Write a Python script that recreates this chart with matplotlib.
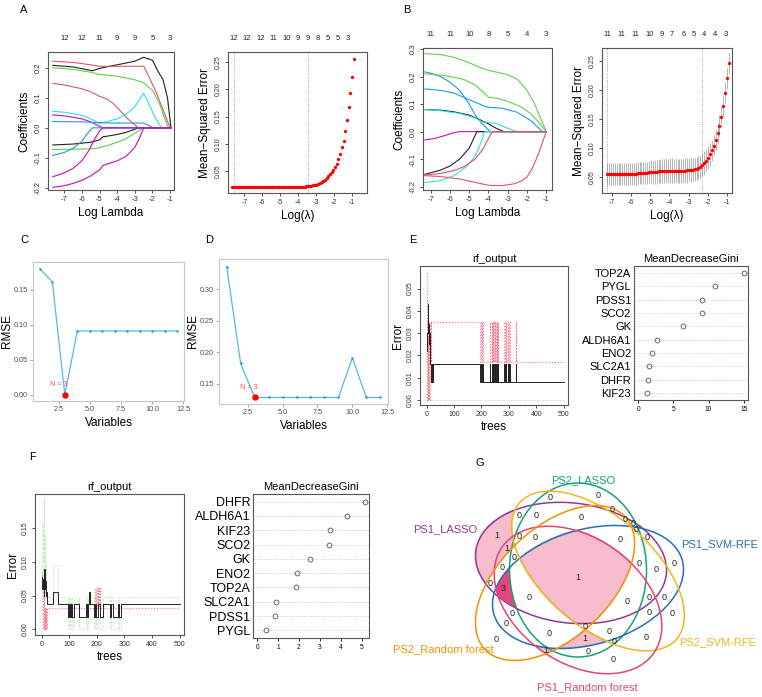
import numpy as np
import matplotlib
matplotlib.use('Agg')
import matplotlib.pyplot as plt
from matplotlib.patches import Ellipse
from matplotlib.transforms import blended_transform_factory
from matplotlib.colors import to_rgba

plt.rcParams['font.family'] = ['Liberation Sans', 'DejaVu Sans']
plt.rcParams['axes.unicode_minus'] = False

# ---------------- data ----------------
# A: LASSO (PS1) coefficient paths, knots (log lambda, coef)
a_paths = [
    ([-7.65, -6.5, -5.4, -5.0, -4.0, -3.0, -2.5, -2.0, -1.7, -1.4, -1.15, -0.95],
     [0.208, 0.203, 0.19, 0.198, 0.21, 0.222, 0.235, 0.225, 0.19, 0.16, 0.1, 0.0]),
    ([-7.65, -6.5, -5.5, -5.0, -4.0, -3.0, -2.5, -2.2, -1.8, -1.4, -1.0],
     [0.222, 0.218, 0.21, 0.205, 0.205, 0.205, 0.205, 0.17, 0.12, 0.06, 0.0]),
    ([-7.65, -6.5, -5.5, -5.0, -4.0, -3.0, -2.5, -2.0, -1.6, -1.3, -1.1],
     [0.2, 0.195, 0.185, 0.178, 0.172, 0.16, 0.15, 0.125, 0.08, 0.03, 0.0]),
    ([-7.65, -7.0, -6.0, -5.5, -5.0, -4.6, -4.2, -3.8, -3.4, -3.0, -2.8],
     [0.148, 0.143, 0.13, 0.12, 0.105, 0.097, 0.08, 0.055, 0.03, 0.01, 0.0]),
    ([-7.65, -7.0, -6.0, -5.5, -5.0, -4.5, -4.0, -3.5, -3.0, -2.5, -2.2, -1.9, -1.6, -1.5],
     [0.055, 0.052, 0.042, 0.03, 0.015, 0.022, 0.03, 0.045, 0.07, 0.115, 0.08, 0.04, 0.01, 0.0]),
    ([-7.65, -7.0, -6.0, -5.5, -5.0, -4.8],
     [0.043, 0.04, 0.03, 0.02, 0.005, 0.0]),
    ([-7.65, -6.0, -5.0, -4.0, -3.0, -2.5, -2.2, -2.0],
     [0.021, 0.02, 0.017, 0.016, 0.016, 0.016, 0.008, 0.0]),
    ([-7.65, -6.5, -5.5, -5.0, -4.8, -4.0, -3.5, -3.0, -2.8],
     [-0.057, -0.054, -0.048, -0.04, -0.03, -0.022, -0.015, -0.005, 0.0]),
    ([-7.65, -6.5, -5.5, -5.0, -4.5, -4.0, -3.5, -3.0, -2.5],
     [-0.072, -0.071, -0.07, -0.066, -0.058, -0.048, -0.036, -0.018, 0.0]),
    ([-7.65, -7.0, -6.5, -6.0, -5.7, -5.4],
     [-0.092, -0.082, -0.068, -0.045, -0.02, 0.0]),
    ([-7.65, -7.0, -6.5, -6.0, -5.6, -5.3, -5.0, -4.8],
     [-0.163, -0.15, -0.135, -0.11, -0.075, -0.04, -0.01, 0.0]),
    ([-7.65, -7.0, -6.5, -6.0, -5.5, -5.0, -4.8, -4.0, -3.5, -3.0, -2.7, -2.5],
     [-0.198, -0.193, -0.185, -0.175, -0.16, -0.14, -0.125, -0.11, -0.095, -0.065, -0.03, 0.0]),
]
a_path_colors = ['#222222', '#DF536B', '#61D04F', '#DF536B', '#28E2E5', '#CD0BBC',
                 '#2297E6', '#222222', '#61D04F', '#2297E6', '#CD0BBC', '#CD0BBC']
a_end = -0.95
a_df_ticks = [-7, -6, -5, -4, -3, -2, -1]
a_df_labels = ['12', '12', '11', '9', '9', '5', '3']

# A: cross-validation curve
a_cv_range = (-7.7, -0.9, 73)
a_mse = [0.0215] * 39 + [0.0216, 0.0217, 0.0218, 0.022, 0.0222, 0.0225, 0.0228, 0.0232,
                         0.0237, 0.0243, 0.025, 0.026, 0.027, 0.029, 0.031, 0.033, 0.035,
                         0.038, 0.041, 0.045, 0.049, 0.053, 0.058, 0.064, 0.073, 0.082,
                         0.094, 0.106, 0.123, 0.143, 0.167, 0.194, 0.223, 0.256]
a_mse_sd = [0.0008] * 50 + [0.001] * 10 + [0.002] * 8 + [0.003] * 5
a_cv_top_pos = [-7.59, -6.85, -6.1, -5.4, -4.62, -4.02, -3.47, -2.91, -2.36, -1.8, -1.24]
a_cv_top_labels = ['12', '12', '12', '11', '10', '9', '9', '8', '5', '5', '3']
a_lambda_lines = [-7.6, -3.45]

# B: LASSO (PS2) coefficient paths
b_paths = [
    ([-7.3, -6.5, -5.8, -5.0, -4.5, -4.0, -3.5, -3.0, -2.5, -2.0, -1.6, -1.3, -1.0],
     [0.283, 0.28, 0.27, 0.25, 0.235, 0.222, 0.215, 0.207, 0.19, 0.15, 0.1, 0.05, 0.0]),
    ([-7.3, -7.0, -6.5, -6.0, -5.5, -5.0, -4.6, -4.2, -3.9],
     [0.217, 0.212, 0.2, 0.18, 0.15, 0.1, 0.05, 0.02, 0.0]),
    ([-7.3, -6.5, -6.0, -5.3, -4.7, -4.3, -4.0, -3.5, -3.0, -2.3, -1.8, -1.4, -1.0],
     [0.21, 0.205, 0.2, 0.19, 0.17, 0.145, 0.125, 0.12, 0.11, 0.09, 0.065, 0.035, 0.0]),
    ([-7.3, -6.5, -5.8, -5.3, -4.8, -4.3, -4.0, -3.3, -2.5, -1.8, -1.2],
     [0.155, 0.15, 0.14, 0.125, 0.11, 0.095, 0.088, 0.085, 0.07, 0.04, 0.0]),
    ([-7.3, -6.5, -5.8, -5.0, -4.5, -4.0, -3.6, -3.2],
     [0.08, 0.078, 0.072, 0.06, 0.045, 0.028, 0.012, 0.0]),
    ([-7.3, -6.5, -5.5, -4.7, -4.3, -3.6, -3.0, -2.5],
     [0.08, 0.076, 0.066, 0.05, 0.035, 0.03, 0.012, 0.0]),
    ([-7.3, -6.8, -6.3, -5.8, -5.5],
     [-0.03, -0.025, -0.015, -0.004, 0.0]),
    ([-7.3, -6.5, -6.0, -5.5, -5.0, -4.8, -4.6],
     [-0.155, -0.14, -0.125, -0.1, -0.06, -0.03, 0.0]),
    ([-7.3, -6.5, -5.8, -5.2, -4.8, -4.5, -4.3, -4.2],
     [-0.185, -0.178, -0.16, -0.13, -0.1, -0.06, -0.02, 0.0]),
    ([-7.3, -6.5, -5.8, -5.2, -4.7, -4.3, -4.0, -3.8],
     [-0.158, -0.152, -0.142, -0.125, -0.1, -0.065, -0.025, 0.0]),
    ([-7.3, -6.5, -5.5, -4.5, -4.0, -3.3, -2.7, -2.3, -2.0, -1.7, -1.4, -1.2, -1.0],
     [-0.16, -0.163, -0.172, -0.187, -0.195, -0.196, -0.19, -0.18, -0.165, -0.13, -0.08, -0.04, 0.0]),
]
b_path_colors = ['#61D04F', '#2297E6', '#61D04F', '#2297E6', '#222222', '#28E2E5',
                 '#CD0BBC', '#222222', '#28E2E5', '#DF536B', '#DF536B']
b_end = -1.0
b_df_ticks = [-7, -6, -5, -4, -3, -2, -1]
b_df_labels = ['11', '11', '10', '8', '5', '4', '3']

b_cv_range = (-7.25, -0.9, 65)
b_mse = ([0.0555] * 13 +
         [0.0556, 0.0558, 0.056, 0.0562, 0.0565, 0.0568, 0.057, 0.0573, 0.0576, 0.058] +
         [0.0583, 0.0586, 0.0589, 0.0592, 0.0595, 0.0598, 0.060, 0.0603, 0.0606, 0.0609] +
         [0.061, 0.061, 0.0608, 0.0606, 0.0605, 0.0605, 0.0606, 0.0608, 0.061, 0.0613,
          0.0617, 0.0622] +
         [0.0628, 0.0635, 0.0645, 0.0658, 0.068, 0.071, 0.074, 0.078, 0.083, 0.089,
          0.096, 0.104, 0.113, 0.125, 0.138, 0.154, 0.173, 0.195, 0.220, 0.246])
b_mse_sd = [0.0185] * 13 + [0.019] * 10 + [0.0205] * 10 + [0.021] * 12 + [0.02] * 10 + [0.018] * 10
b_cv_top_pos = [-7.26, -6.53, -5.79, -5.01, -4.40, -3.88, -3.28, -2.72, -2.19, -1.64, -1.08]
b_cv_top_labels = ['11', '11', '11', '10', '9', '7', '6', '5', '4', '4', '3']
b_lambda_lines = [-7.25, -2.28]

# C / D: SVM-RFE
n_vars = [1, 2, 3, 4, 5, 6, 7, 8, 9, 10, 11, 12]
c_rmse = [0.180, 0.161, 0.000, 0.091, 0.091, 0.091, 0.091, 0.091, 0.091, 0.091, 0.091, 0.091]
d_rmse = [0.336, 0.182, 0.128, 0.128, 0.128, 0.128, 0.128, 0.128, 0.128, 0.191, 0.128, 0.128]
best_n = 3

# E: random forest PS1 (step change points: tree, error)
e_oob = [(1, 0.022), (3, 0.03), (4, 0.043), (6, 0.034), (8, 0.025), (10, 0.03), (12, 0.024),
         (14, 0.016), (16, 0.008), (18, 0.016), (20, 0.008), (24, 0.016), (196, 0.008),
         (198, 0.016), (201, 0.008), (204, 0.016), (206, 0.008), (230, 0.016), (232, 0.008),
         (238, 0.016), (240, 0.008), (242, 0.016), (244, 0.008), (246, 0.016), (248, 0.008),
         (250, 0.016), (252, 0.008), (256, 0.016), (258, 0.008), (260, 0.016), (262, 0.008),
         (284, 0.016), (286, 0.008), (289, 0.016), (291, 0.008), (296, 0.016), (298, 0.008),
         (301, 0.016), (303, 0.008), (325, 0.016), (327, 0.008), (500, 0.008)]
e_cls1 = [(1, 0.057), (2, 0.02), (3, 0.0), (5, 0.035), (6, 0.0), (8, 0.035), (9, 0.0),
          (11, 0.017), (13, 0.035), (15, 0.017), (17, 0.035), (196, 0.017), (198, 0.035),
          (201, 0.017), (204, 0.035), (206, 0.017), (230, 0.035), (232, 0.017), (238, 0.035),
          (240, 0.017), (242, 0.035), (244, 0.017), (246, 0.035), (248, 0.017), (250, 0.035),
          (252, 0.017), (256, 0.035), (258, 0.017), (260, 0.035), (262, 0.017), (284, 0.035),
          (286, 0.017), (289, 0.035), (291, 0.017), (296, 0.035), (298, 0.017), (301, 0.035),
          (303, 0.017), (325, 0.035), (327, 0.017), (500, 0.017)]
e_cls2 = [(1, 0.0), (3, 0.045), (5, 0.02), (7, 0.0), (500, 0.0)]
e_genes = ['TOP2A', 'PYGL', 'PDSS1', 'SCO2', 'GK', 'ALDH6A1', 'ENO2', 'SLC2A1', 'DHFR', 'KIF23']
e_gini = [15.0, 10.9, 9.0, 9.0, 6.4, 2.6, 2.0, 1.5, 1.4, 1.3]

# F: random forest PS2
f_oob = [(1, 0.078), (3, 0.06), (5, 0.075), (7, 0.05), (9, 0.09), (11, 0.06), (13, 0.072),
         (15, 0.05), (17, 0.055), (20, 0.037), (40, 0.056), (60, 0.037), (97, 0.018),
         (100, 0.037), (103, 0.018), (108, 0.037), (110, 0.018), (118, 0.037), (137, 0.018),
         (160, 0.037), (163, 0.018), (167, 0.037), (172, 0.056), (176, 0.037), (190, 0.018),
         (195, 0.037), (198, 0.018), (206, 0.037), (212, 0.018), (222, 0.037), (247, 0.018),
         (253, 0.037), (257, 0.018), (276, 0.037), (280, 0.018), (288, 0.037), (500, 0.037)]
f_cls1 = [(1, 0.085), (3, 0.06), (5, 0.0), (7, 0.062), (9, 0.0), (11, 0.031), (13, 0.0),
          (15, 0.031), (17, 0.0), (19, 0.031), (193, 0.062), (196, 0.031), (199, 0.062),
          (203, 0.031), (205, 0.062), (209, 0.031), (211, 0.062), (213, 0.031), (500, 0.031)]
f_cls2 = [(1, 0.0), (3, 0.16), (5, 0.05), (7, 0.195), (9, 0.1), (11, 0.14), (13, 0.048),
          (15, 0.1), (17, 0.048), (40, 0.096), (58, 0.048), (97, 0.0), (100, 0.048),
          (103, 0.0), (108, 0.048), (110, 0.0), (118, 0.048), (137, 0.0), (160, 0.048),
          (163, 0.0), (167, 0.048), (190, 0.0), (195, 0.048), (198, 0.0), (206, 0.048),
          (212, 0.0), (222, 0.048), (247, 0.0), (253, 0.048), (257, 0.0), (276, 0.048),
          (280, 0.0), (288, 0.048), (500, 0.048)]
f_genes = ['DHFR', 'ALDH6A1', 'KIF23', 'SCO2', 'GK', 'ENO2', 'TOP2A', 'SLC2A1', 'PDSS1', 'PYGL']
f_gini = [5.15, 4.3, 3.5, 3.45, 2.55, 1.9, 1.85, 0.9, 0.85, 0.4]

# G: six-set venn
venn_sets = ['PS1_LASSO', 'PS2_LASSO', 'PS1_SVM-RFE', 'PS2_SVM-RFE',
             'PS1_Random forest', 'PS2_Random forest']
venn_nonzero = [
    (('PS1_LASSO', 'PS2_LASSO', 'PS1_SVM-RFE', 'PS2_SVM-RFE',
      'PS1_Random forest', 'PS2_Random forest'), 1),
    (('PS1_LASSO',), 1),
    (('PS1_LASSO', 'PS1_SVM-RFE', 'PS1_Random forest', 'PS2_Random forest'), 3),
    (('PS1_LASSO', 'PS1_Random forest'), 1),
    (('PS1_Random forest', 'PS2_Random forest'), 1),
    (('PS2_LASSO', 'PS1_SVM-RFE', 'PS1_Random forest'), 1),
]

# ---------------- layout / style ----------------
W, H = 762, 697
fig = plt.figure(figsize=(W / 100, H / 100), dpi=100)


def add_box(x0, y0, x1, y1):
    return fig.add_axes([x0 / W, 1 - y1 / H, (x1 - x0) / W, (y1 - y0) / H])


def r_style(ax, fs=5.5):
    for s in ax.spines.values():
        s.set_color('#555555')
        s.set_linewidth(0.8)
    ax.tick_params(direction='out', length=2.5, width=0.6, colors='#333333',
                   labelsize=fs, pad=2)
    ax.tick_params(axis='y', labelrotation=90)
    plt.setp(ax.get_yticklabels(), va='center')


def gg_style(ax):
    for s in ax.spines.values():
        s.set_color('#C8C8C8')
        s.set_linewidth(0.8)
    ax.tick_params(direction='out', length=2, width=0.6, color='#999999',
                   labelcolor='#4D4D4D', labelsize=5.2, pad=1.5)


def top_labels(ax, pos, labels, dy=14):
    tr = blended_transform_factory(ax.transData, ax.transAxes)
    h = ax.get_position().height * H
    for p, lab in zip(pos, labels):
        ax.text(p, 1 + dy / h, lab, transform=tr, ha='center', va='center',
                fontsize=5.5, color='#222222')


def letter(x, y, s):
    fig.text(x / W, 1 - y / H, s, fontsize=8, ha='left', va='center')


def draw_paths(ax, paths, colors, end):
    for (xs, ys), c in zip(paths, colors):
        xs = list(xs) + ([end] if xs[-1] < end else [])
        ys = list(ys) + ([0.0] if len(ys) < len(xs) else [])
        ax.plot(xs, ys, color=c, lw=0.8)


def draw_cv(ax, rng, mse, sd, vlines):
    x = np.linspace(*rng)
    ax.errorbar(x, mse, yerr=sd, fmt='o', color='red', ms=2.4, mew=0,
                ecolor='#AAAAAA', elinewidth=0.6, capsize=1.0, capthick=0.5)
    for v in vlines:
        ax.axvline(v, color='#888888', ls=':', lw=0.6)


def draw_rf(ax, oob, cls1, cls2, ylim, yticks):
    for pts, kw in ((cls2, dict(color='#61D04F', ls='--', lw=0.6, alpha=0.35)),
                    (cls1, dict(color='#FF4D6A', ls=':', lw=0.8, alpha=0.8)),
                    (oob, dict(color='#222222', ls='-', lw=0.7))):
        t, e = zip(*pts)
        ax.step(t, e, where='post', **kw)
    ax.set_xlim(-24, 516)
    ax.set_ylim(*ylim)
    ax.set_xticks([0, 100, 200, 300, 400, 500])
    ax.set_yticks(yticks)
    r_style(ax, fs=5)
    ax.set_title('rf_output', fontsize=8, pad=3)
    ax.set_xlabel('trees', fontsize=8.5, labelpad=2)
    ax.set_ylabel('Error', fontsize=8.5, labelpad=2)


def draw_gini(ax, genes, vals, xlim, xticks, fs):
    ypos = np.arange(len(genes), 0, -1)
    ax.hlines(ypos, xlim[0], xlim[1], colors='#BBBBBB', linestyles=':', lw=0.6)
    ax.plot(vals, ypos, 'o', mfc='none', mec='#555555', ms=3.5, mew=0.6)
    ax.set_xlim(*xlim)
    ax.set_ylim(0.47, len(genes) + 0.53)
    ax.set_xticks(xticks)
    ax.set_yticks(ypos)
    ax.set_yticklabels(genes)
    for s in ax.spines.values():
        s.set_color('#555555')
        s.set_linewidth(0.8)
    ax.tick_params(axis='x', direction='out', length=2.5, width=0.6, labelsize=4.8, pad=2)
    ax.tick_params(axis='y', length=0, labelsize=fs, pad=2)
    ax.set_title('MeanDecreaseGini', fontsize=8, pad=3)


# ---- A ----
ax = add_box(48, 52, 174, 190)
draw_paths(ax, a_paths, a_path_colors, a_end)
ax.set_xlim(-7.92, -0.78)
ax.set_ylim(-0.207, 0.2526)
ax.set_xticks(a_df_ticks)
ax.set_yticks([-0.2, -0.1, 0.0, 0.1, 0.2])
r_style(ax)
top_labels(ax, a_df_ticks, a_df_labels)
ax.set_xlabel('Log Lambda', fontsize=8.5, labelpad=3)
ax.set_ylabel('Coefficients', fontsize=8.5, labelpad=3)

ax = add_box(228, 52, 367, 193)
draw_cv(ax, a_cv_range, a_mse, a_mse_sd, a_lambda_lines)
ax.set_xlim(-7.91, -0.16)
ax.set_ylim(0.0106, 0.268)
ax.set_xticks([-7, -6, -5, -4, -3, -2, -1])
ax.set_yticks([0.05, 0.10, 0.15, 0.20, 0.25])
r_style(ax, fs=5)
top_labels(ax, a_cv_top_pos, a_cv_top_labels)
ax.set_xlabel('Log(\u03bb)', fontsize=8.5, labelpad=3)
ax.set_ylabel('Mean\u2212Squared Error', fontsize=8.5, labelpad=3)

# ---- B ----
ax = add_box(423, 48, 552, 190)
draw_paths(ax, b_paths, b_path_colors, b_end)
ax.set_xlim(-7.4, -0.7)
ax.set_ylim(-0.212, 0.3036)
ax.set_xticks(b_df_ticks)
ax.set_yticks([-0.2, -0.1, 0.0, 0.1, 0.2, 0.3])
r_style(ax)
top_labels(ax, b_df_ticks, b_df_labels)
ax.set_xlabel('Log Lambda', fontsize=8.5, labelpad=3)
ax.set_ylabel('Coefficients', fontsize=8.5, labelpad=3)

ax = add_box(602, 48, 732, 193)
draw_cv(ax, b_cv_range, b_mse, b_mse_sd, b_lambda_lines)
ax.set_xlim(-7.52, -0.74)
ax.set_ylim(0.0225, 0.272)
ax.set_xticks([-7, -6, -5, -4, -3, -2, -1])
ax.set_yticks([0.05, 0.10, 0.15, 0.20, 0.25])
r_style(ax, fs=5)
top_labels(ax, b_cv_top_pos, b_cv_top_labels)
ax.set_xlabel('Log(\u03bb)', fontsize=8.5, labelpad=3)
ax.set_ylabel('Mean\u2212Squared Error', fontsize=8.5, labelpad=3)

# ---- C / D ----
for box, vals, ylim, yticks in (((33, 262, 184, 401), c_rmse, (-0.009, 0.1895),
                                 [0.00, 0.05, 0.10, 0.15]),
                                ((219, 259, 388, 404), d_rmse, (0.1176, 0.348),
                                 [0.15, 0.20, 0.25, 0.30])):
    ax = add_box(*box)
    ax.plot(n_vars, vals, color='#56B9EA', lw=0.9, marker='o', ms=1.8, mfc='#2A9AD8', mec='none')
    bi = n_vars.index(best_n)
    ax.plot([n_vars[bi]], [vals[bi]], 'o', color='red', ms=3.6)
    ax.annotate('N = %d' % best_n, (n_vars[bi], vals[bi]), xytext=(-4, 5),
                textcoords='offset points', ha='center', va='bottom', color='#FF5050',
                fontsize=5.2)
    ax.set_xlim(0.45, 12.55)
    ax.set_ylim(*ylim)
    ax.set_xticks([2.5, 5.0, 7.5, 10.0, 12.5])
    ax.set_xticklabels(['2.5', '5.0', '7.5', '10.0', '12.5'])
    ax.set_yticks(yticks)
    ax.set_yticklabels(['%.2f' % v for v in yticks])
    gg_style(ax)
    ax.set_xlabel('Variables', fontsize=8.5, labelpad=3)
    ax.set_ylabel('RMSE', fontsize=8.5, labelpad=0.5)

# ---- E ----
ax = add_box(420, 266, 568, 405)
draw_rf(ax, e_oob, e_cls1, e_cls2, (-0.0022, 0.0601), [0.00, 0.01, 0.02, 0.03, 0.04, 0.05])
ax = add_box(634, 266, 748, 400)
draw_gini(ax, e_genes, e_gini, (-0.6, 15.6), [0, 5, 10, 15], 8)

# ---- F ----
ax = add_box(35, 494, 184, 635)
draw_rf(ax, f_oob, f_cls1, f_cls2, (-0.0084, 0.201), [0.00, 0.05, 0.10, 0.15])
ax = add_box(253, 494, 369, 638)
draw_gini(ax, f_genes, f_gini, (-0.21, 5.36), [0, 1, 2, 3, 4, 5], 9)

# ---- G: venn ----
venn_shapes = [(571, 563, 192, 120, 7), (578, 570, 137, 174, 0), (588, 587, 196, 115, -16),
               (598, 571, 208, 110, 41), (578, 600, 185, 125, 35), (555, 583, 193, 110, -43.5)]
venn_colors = ['#8E3A96', '#16A27A', '#2A6EB5', '#F6B51A', '#E9427A', '#F39200']
venn_label_pos = [(445, 529), (583, 480), (720, 544), (718, 642), (587, 687), (443, 649)]

ax = add_box(440, 455, 762, 697)
ax.set_xlim(440, 762)
ax.set_ylim(697, 455)
ax.axis('off')

gx = np.arange(440, 720, 0.5)
gy = np.arange(455, 697, 0.5)
GX, GY = np.meshgrid(gx, gy)
code = np.zeros(GX.shape, dtype=int)
for k, (cx, cy, w, h, ang) in enumerate(venn_shapes):
    t = np.deg2rad(ang)
    dx, dy = GX - cx, GY - cy
    u = dx * np.cos(t) + dy * np.sin(t)
    v = -dx * np.sin(t) + dy * np.cos(t)
    code |= (((u / (w / 2)) ** 2 + (v / (h / 2)) ** 2) <= 1).astype(int) << k

count_by_code = {}
for members, n in venn_nonzero:
    count_by_code[sum(1 << venn_sets.index(m) for m in members)] = n

img = np.zeros(GX.shape + (4,))
for c, n in count_by_code.items():
    img[code == c] = to_rgba('#E8457A' if n > 1 else '#F8BECD')
ax.imshow(img, extent=(gx[0], gx[-1], gy[-1], gy[0]), origin='upper',
          interpolation='bilinear', zorder=1)

for (cx, cy, w, h, ang), col in zip(venn_shapes, venn_colors):
    ax.add_patch(Ellipse((cx, cy), w, h, angle=ang, fill=False, ec=col, lw=1.1, zorder=2))


def inner_point(mask):
    rows, cols = np.nonzero(mask)
    r0, r1, c0, c1 = rows.min(), rows.max() + 1, cols.min(), cols.max() + 1
    m = np.pad(mask[r0:r1, c0:c1], 1)
    last = m
    while m.any():
        last = m
        m = m & np.roll(m, 1, 0) & np.roll(m, -1, 0) & np.roll(m, 1, 1) & np.roll(m, -1, 1)
    rr, cc = np.nonzero(last)
    i = np.argmin((rr - rr.mean()) ** 2 + (cc - cc.mean()) ** 2)
    return rr[i] - 1 + r0, cc[i] - 1 + c0


for c in np.unique(code):
    if c == 0:
        continue
    mask = code == c
    if mask.sum() < 60:
        continue
    r, q = inner_point(mask)
    ax.text(gx[q], gy[r], str(count_by_code.get(c, 0)), ha='center', va='center',
            fontsize=6.5, color='#222222', zorder=3)

for (lx, ly), name, col in zip(venn_label_pos, venn_sets, venn_colors):
    ax.text(lx, ly, name, ha='center', va='center', fontsize=8, color=col, zorder=3)

# panel letters
letter(20, 10, 'A')
letter(403, 10, 'B')
letter(20, 240, 'C')
letter(205, 240, 'D')
letter(409, 240, 'E')
letter(29, 457, 'F')
letter(475, 463, 'G')

fig.savefig('out.png', dpi=100)
